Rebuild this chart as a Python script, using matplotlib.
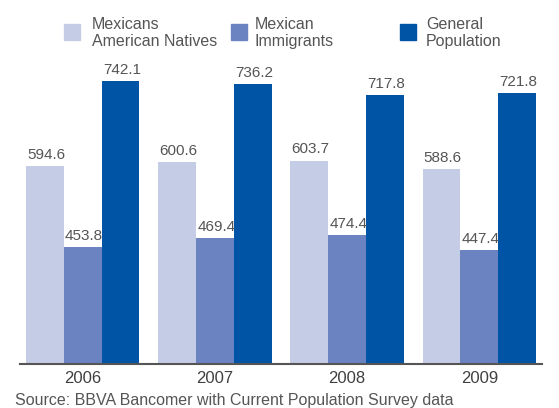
import matplotlib.pyplot as plt
from matplotlib.patches import Rectangle
import numpy as np

plt.rcParams['font.family'] = ['Liberation Sans', 'DejaVu Sans']

years = ['2006', '2007', '2008', '2009']
natives = [594.6, 600.6, 603.7, 588.6]
immigrants = [453.8, 469.4, 474.4, 447.4]
general = [742.1, 736.2, 717.8, 721.8]

series = [natives, immigrants, general]
labels = ['Mexicans\nAmerican Natives', 'Mexican\nImmigrants', 'General\nPopulation']
colors = ['#c5cde6', '#6c83c1', '#0054a5']
text_color = '#555555'

fig = plt.figure(figsize=(5.59, 4.08), dpi=100)
ax = fig.add_axes([20 / 559, 44 / 408, 522 / 559, 304.75 / 408])

x = np.arange(len(years))
w = 0.286
for i, (vals, c) in enumerate(zip(series, colors)):
    pos = x + (i - 1) * w
    ax.bar(pos, vals, width=w, color=c, zorder=2)
    for px, v in zip(pos, vals):
        ax.annotate(f'{v:.1f}', (px, v), xytext=(1, 3), textcoords='offset points',
                    ha='center', va='bottom', fontsize=11, color=text_color)

ax.set_ylim(250, 780)
ax.set_xlim(-0.474, 3.474)
ax.set_xticks(x)
ax.set_xticklabels(years, fontsize=12, color='#404040')
ax.tick_params(axis='x', length=0, pad=5)
ax.set_yticks([])
for s in ['top', 'right', 'left']:
    ax.spines[s].set_visible(False)
ax.spines['bottom'].set_color('#555555')
ax.spines['bottom'].set_linewidth(1.5)
ax.spines['bottom'].set_zorder(3)

# legend drawn by hand along the top
sq_x = [64, 231, 400]
txt_x = [92, 255, 426]
for sx, tx, lab, c in zip(sq_x, txt_x, labels, colors):
    fig.add_artist(Rectangle((sx / 559, 1 - 40 / 408), 16 / 559, 16 / 408,
                             transform=fig.transFigure, color=c))
    fig.text(tx / 559, 1 - 33 / 408, lab, ha='left', va='center',
             fontsize=11.5, color=text_color, linespacing=1.1)

fig.text(15 / 559, 1 - 400 / 408, 'Source: BBVA Bancomer with Current Population Survey data',
         ha='left', va='center', fontsize=11.5, color=text_color)

fig.savefig('out.png', dpi=100)
